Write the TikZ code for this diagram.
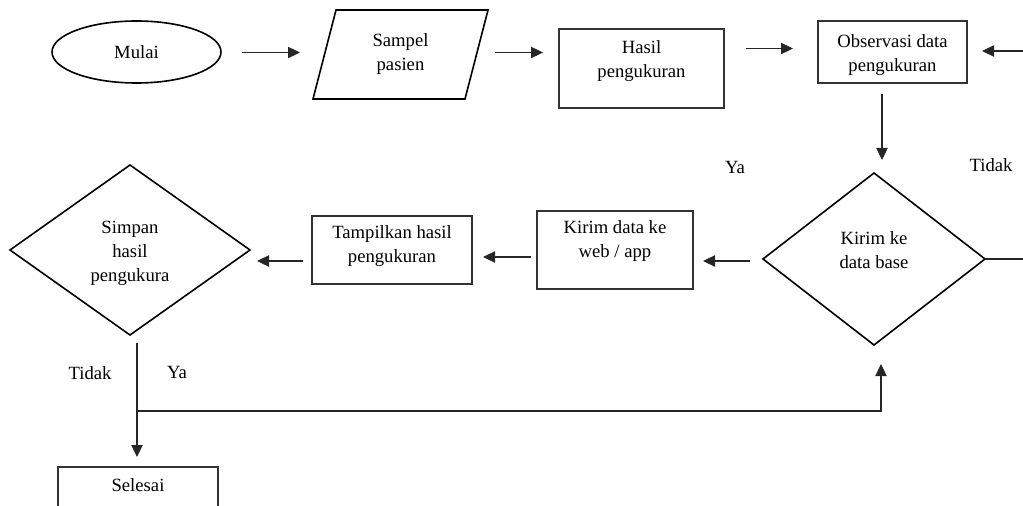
\documentclass[tikz,border=0pt]{standalone}
\usepackage{fontspec}
\setmainfont{Liberation Serif}
\usetikzlibrary{shapes.geometric,arrows.meta,calc}
\newdimen\pxu \pxu=0.75pt
\begin{document}
\begin{tikzpicture}[x=0.75pt,y=-0.75pt,
  every node/.style={font=\fontsize{14}{18}\selectfont},
  txt/.style={align=center, inner sep=0pt},
  box/.style={draw=black!80, line width=0.8pt, rectangle, inner sep=0pt, outer sep=0pt},
  shp/.style={draw=black, line width=1.2pt},
  dia/.style={shp, diamond, inner sep=0pt, outer sep=0pt},
  ell/.style={shp, ellipse, inner sep=0pt, outer sep=0pt},
  arr/.style={draw=black!85, line width=0.8pt, -{Triangle[length=9pt,width=8.5pt]}},
  ln/.style={draw=black!85, line width=0.8pt}]
\useasboundingbox (0,0) rectangle (1023,506);

% shapes
\node[ell, minimum width=169\pxu, minimum height=62\pxu] (mulai) at (136.5,52) {Mulai};
\node[txt, outer sep=0pt, minimum width=175\pxu, minimum height=89\pxu] (sampel) at (400.5,54.5) {Sampel\\pasien};
\draw[shp] (sampel.south west) -- ($(sampel.north west)+(23,0)$) -- (sampel.north east) -- ($(sampel.south east)+(-23,0)$) -- cycle;
\node[box, minimum width=165\pxu, minimum height=79\pxu, label={[txt,yshift=7\pxu]center:Hasil\\pengukuran}] (hasil) at (641.5,68.5) {};
\node[box, minimum width=149\pxu, minimum height=62\pxu, label={[txt,yshift=-3\pxu]center:Observasi data\\pengukuran}] (obs) at (892.5,52) {};
\node[dia, minimum width=222\pxu, minimum height=172\pxu, label={[txt,yshift=8.5\pxu]center:Kirim ke\\data base}] (kdb) at (874,259) {};
\node[box, minimum width=156\pxu, minimum height=78\pxu, label={[txt,yshift=8.5\pxu]center:Kirim data ke\\web / app}] (kweb) at (615,250) {};
\node[box, minimum width=160\pxu, minimum height=68\pxu, label={[txt,yshift=3.5\pxu]center:Tampilkan hasil\\pengukuran}] (tampil) at (392,250) {};
\node[dia, minimum width=240\pxu, minimum height=170\pxu, label={[txt,yshift=-3.5\pxu]center:Simpan\\hasil\\pengukura}] (simpan) at (130,250) {};
\node[box, minimum width=160\pxu, minimum height=73\pxu, label={[txt,yshift=18.5\pxu]center:Selesai}] (selesai) at (138,503.5) {};

% labels
\node (ya1) at (735,167) {Ya};
\node (tidak1) at (991,165) {Tidak};
\node (tidak2) at (90,373) {Tidak};
\node (ya2) at (177,372) {Ya};

% free ends
\coordinate (redge) at (1023,51);
\coordinate (redge2) at (1023,259);
\coordinate (junc) at ($(simpan.south)+(7,76)$);

% connectors
\draw[arr] ($(mulai.east)+(21,0.5)$) -- ($(sampel.west)+(-13,-2)$);
\draw[arr] ($(sampel.east)+(7,-2)$) -- ($(hasil.west)+(-16,-16)$);
\draw[arr] ($(hasil.east)+(22,-20)$) -- ($(obs.west)+(-25,-3.5)$);
\draw[arr] (redge) -- ($(obs.east)+(15,-1)$);
\draw[arr] ($(obs.south)+(-10.5,11)$) -- ($(kdb.north)+(8,-13)$);
\draw[ln] (kdb.east) -- (redge2);
\draw[arr] ($(kdb.west)+(-13,2)$) -- ($(kweb.east)+(10,11)$);
\draw[arr] ($(kweb.west)+(-6,7)$) -- ($(tampil.east)+(11,7)$);
\draw[arr] ($(tampil.west)+(-9,11)$) -- ($(simpan.east)+(7,11)$);
\draw[arr] ($(simpan.south)+(7,8)$) -- ($(selesai.north)+(-1,-10)$);
\draw[arr] (junc) -| ($(kdb.south)+(7,19)$);
\end{tikzpicture}
\end{document}
